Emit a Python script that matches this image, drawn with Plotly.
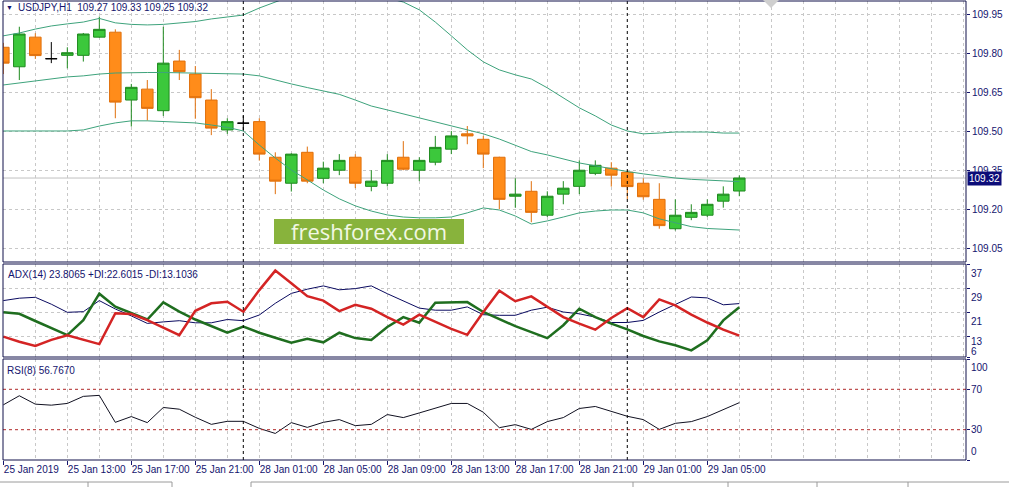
import plotly.graph_objects as go
import pandas as pd

W, H = 1009, 487
ML, MR, MT, MB = 3, 43, 1, 27

# H1 bars, weekend squeezed out like the terminal does
times = (list(pd.date_range("2019-01-25 09:00", "2019-01-25 23:00", freq="h"))
         + list(pd.date_range("2019-01-28 00:00", "2019-01-28 23:00", freq="h"))
         + list(pd.date_range("2019-01-29 00:00", "2019-01-29 07:00", freq="h")))

opens = [109.823, 109.748, 109.862, 109.779, 109.792, 109.792, 109.862, 109.881, 109.620, 109.662,
         109.579, 109.770, 109.720, 109.620, 109.505, 109.531, 109.537, 109.400, 109.300, 109.419,
         109.319, 109.350, 109.400, 109.288, 109.300, 109.400, 109.350, 109.381, 109.431, 109.490,
         109.469, 109.400, 109.250, 109.269, 109.177, 109.258, 109.288, 109.338, 109.358, 109.342,
         109.300, 109.238, 109.125, 109.169, 109.177, 109.231, 109.27]
highs = [109.840, 109.902, 109.877, 109.843, 109.823, 109.878, 109.941, 109.892, 109.682, 109.697,
         109.902, 109.813, 109.751, 109.662, 109.550, 109.560, 109.550, 109.419, 109.415, 109.441,
         109.383, 109.412, 109.412, 109.350, 109.412, 109.462, 109.400, 109.482, 109.501, 109.520,
         109.482, 109.402, 109.319, 109.308, 109.269, 109.308, 109.388, 109.388, 109.381, 109.350,
         109.319, 109.300, 109.238, 109.219, 109.238, 109.288, 109.33]
lows = [109.720, 109.697, 109.778, 109.762, 109.742, 109.768, 109.860, 109.550, 109.518, 109.541,
        109.559, 109.697, 109.548, 109.485, 109.490, 109.500, 109.387, 109.258, 109.268, 109.300,
        109.300, 109.331, 109.281, 109.269, 109.288, 109.350, 109.308, 109.369, 109.412, 109.450,
        109.358, 109.200, 109.206, 109.150, 109.170, 109.219, 109.258, 109.331, 109.287, 109.238,
        109.237, 109.125, 109.118, 109.158, 109.170, 109.206, 109.25]
closes = [109.762, 109.874, 109.791, 109.779, 109.802, 109.874, 109.892, 109.612, 109.669, 109.588,
          109.762, 109.729, 109.629, 109.512, 109.537, 109.531, 109.412, 109.308, 109.412, 109.308,
          109.358, 109.388, 109.300, 109.308, 109.388, 109.354, 109.388, 109.438, 109.482, 109.482,
          109.412, 109.238, 109.258, 109.188, 109.250, 109.281, 109.350, 109.369, 109.331, 109.287,
          109.248, 109.137, 109.177, 109.188, 109.219, 109.258, 109.32]

bb_upper = [109.867, 109.878, 109.893, 109.905, 109.913, 109.920, 109.934, 109.917, 109.911, 109.909,
            109.911, 109.917, 109.922, 109.932, 109.940, 109.947, 109.974, 109.997, 110.020, 110.036,
            110.043, 110.047, 110.043, 110.028, 110.013, 109.997, 109.967, 109.920, 109.867, 109.813,
            109.767, 109.736, 109.717, 109.701, 109.667, 109.628, 109.590, 109.559, 109.524, 109.501,
            109.490, 109.493, 109.497, 109.497, 109.497, 109.493, 109.493]
bb_mid = [109.678, 109.686, 109.693, 109.701, 109.709, 109.713, 109.720, 109.724, 109.726, 109.726,
          109.726, 109.725, 109.724, 109.724, 109.722, 109.720, 109.713, 109.697, 109.682, 109.668,
          109.655, 109.642, 109.620, 109.597, 109.582, 109.567, 109.551, 109.536, 109.520, 109.505,
          109.490, 109.470, 109.447, 109.422, 109.409, 109.393, 109.378, 109.367, 109.355, 109.345,
          109.336, 109.328, 109.320, 109.315, 109.311, 109.309, 109.306]
bb_lower = [109.501, 109.501, 109.501, 109.501, 109.501, 109.505, 109.520, 109.532, 109.540, 109.540,
            109.538, 109.536, 109.532, 109.524, 109.515, 109.501, 109.447, 109.397, 109.351, 109.313,
            109.274, 109.240, 109.213, 109.193, 109.178, 109.170, 109.167, 109.167, 109.170, 109.186,
            109.205, 109.197, 109.174, 109.143, 109.155, 109.170, 109.186, 109.193, 109.197, 109.197,
            109.186, 109.163, 109.147, 109.133, 109.126, 109.122, 109.120]

adx = [24.8, 25.6, 25.9, 23.6, 20.9, 21.1, 24.8, 22.0, 19.7, 17.2, 17.7, 18.1, 17.4, 17.4, 18.5, 18.1,
       20.0, 23.9, 27.2, 28.6, 29.7, 28.4, 28.8, 29.7, 27.1, 24.6, 22.3, 21.6, 21.6, 22.7, 20.1, 19.9,
       19.9, 21.6, 22.6, 21.0, 20.4, 19.3, 17.5, 17.5, 18.2, 21.0, 23.4, 26.0, 25.7, 23.4, 23.8065]
plus_di = [20.9, 20.4, 18.0, 15.6, 13.3, 18.3, 27.1, 22.8, 20.6, 18.5, 24.2, 21.1, 18.5, 16.3, 14.1, 16.1,
           14.1, 12.4, 10.8, 12.1, 10.9, 14.1, 12.3, 11.7, 16.0, 19.3, 17.4, 24.1, 24.1, 24.3, 21.0, 18.6,
           16.3, 14.3, 12.3, 16.6, 22.1, 19.3, 17.1, 15.2, 13.0, 11.2, 9.9, 8.2, 11.6, 18.2, 22.6015]
minus_di = [12.8, 11.1, 9.7, 11.7, 13.2, 11.7, 10.3, 20.6, 20.3, 18.3, 15.9, 13.3, 21.4, 23.9, 24.4, 21.1,
            28.3, 34.8, 30.6, 26.3, 24.8, 21.3, 23.4, 22.1, 19.3, 16.8, 20.1, 17.7, 15.4, 13.4, 21.0, 28.1,
            24.6, 26.2, 22.7, 19.3, 17.1, 15.1, 19.0, 22.3, 19.3, 25.2, 23.2, 20.1, 17.5, 15.1, 13.1036]

rsi = [54.6, 63.6, 55.3, 54.3, 56.0, 63.0, 64.0, 37.3, 43.0, 37.0, 52.0, 50.3, 42.3, 35.3, 38.3, 38.3,
       31.3, 26.3, 37.0, 32.3, 37.3, 40.0, 34.0, 35.3, 45.0, 42.0, 46.6, 51.6, 56.0, 56.0, 47.3, 32.0,
       35.0, 30.3, 38.0, 42.0, 51.0, 53.0, 48.3, 43.3, 40.0, 30.3, 36.3, 38.0, 43.0, 49.6, 56.767]
rsi_levels = [70, 30]

price_ticks = [109.05, 109.20, 109.35, 109.50, 109.65, 109.80, 109.95]
adx_ticks = [37, 29, 21, 13, 6]
rsi_ticks = [100, 70, 30, 0]

NAVY = "#14146e"
GRID = "#c8c8c8"
FONT = "Liberation Sans"


def px(x):
    return (x - ML) / (W - ML - MR)


def py(y):
    return (H - MB - y) / (H - MT - MB)


n = len(times)
idx = list(range(n))
tick_idx = list(range(0, n, 4))
tick_text = [times[i].strftime("%d %b %H:%M") for i in tick_idx]
tick_text[0] = times[0].strftime("%d %b %Y")
day_breaks = [i for i in range(1, n) if times[i].date() != times[i - 1].date()]

doji = [i for i in idx if opens[i] == closes[i]]
body = [i for i in idx if opens[i] != closes[i]]

fig = go.Figure()

for band in (bb_upper, bb_mid, bb_lower):
    fig.add_trace(go.Scatter(x=idx, y=band, mode="lines", line=dict(color="#3ea37c", width=1),
                             xaxis="x", yaxis="y", hoverinfo="skip"))

fig.add_trace(go.Candlestick(
    x=body, open=[opens[i] for i in body], high=[highs[i] for i in body],
    low=[lows[i] for i in body], close=[closes[i] for i in body],
    increasing=dict(line=dict(color="#1e8a1e", width=1), fillcolor="#3cc83c"),
    decreasing=dict(line=dict(color="#e0700c", width=1), fillcolor="#ff8c1a"),
    xaxis="x", yaxis="y"))
fig.add_trace(go.Candlestick(
    x=doji, open=[opens[i] for i in doji], high=[highs[i] for i in doji],
    low=[lows[i] for i in doji], close=[closes[i] for i in doji],
    increasing=dict(line=dict(color="black", width=1), fillcolor="black"),
    decreasing=dict(line=dict(color="black", width=1), fillcolor="black"),
    xaxis="x", yaxis="y"))

fig.add_trace(go.Scatter(x=idx, y=adx, mode="lines", line=dict(color="#0a0a60", width=1),
                         xaxis="x", yaxis="y2"))
fig.add_trace(go.Scatter(x=idx, y=plus_di, mode="lines", line=dict(color="#1f6e1f", width=2.5),
                         xaxis="x", yaxis="y2"))
fig.add_trace(go.Scatter(x=idx, y=minus_di, mode="lines", line=dict(color="#d42424", width=2.5),
                         xaxis="x", yaxis="y2"))
fig.add_trace(go.Scatter(x=idx, y=rsi, mode="lines", line=dict(color="#101020", width=1),
                         xaxis="x", yaxis="y3"))

dom_main = [py(262), 1]
dom_adx = [py(357), py(264)]
dom_rsi = [0, py(359)]

shapes = []
# current price line
shapes.append(dict(type="line", xref="paper", x0=0, x1=1, yref="y", y0=closes[-1], y1=closes[-1],
                   line=dict(color="#c0c0c0", width=1), layer="below"))
for lv in rsi_levels:
    shapes.append(dict(type="line", xref="paper", x0=0, x1=1, yref="y3", y0=lv, y1=lv,
                       line=dict(color="#b02828", width=1, dash="3px,3px")))
for b in day_breaks:
    shapes.append(dict(type="line", xref="x", x0=b, x1=b, yref="paper", y0=0, y1=py(0),
                       line=dict(color="black", width=1, dash="3px,3px")))
for d in (dom_main, dom_adx, dom_rsi):
    shapes.append(dict(type="rect", xref="paper", x0=0, x1=1, yref="paper", y0=d[0], y1=d[1],
                       line=dict(color="#10104a", width=1)))
# watermark box
shapes.append(dict(type="rect", xref="paper", x0=px(274), x1=px(464), yref="paper", y0=py(244), y1=py(219),
                   fillcolor="#88b33c", line=dict(width=0)))
# chart-shift marker and tab strip
shapes.append(dict(type="path", xref="paper", yref="paper",
                   path=f"M {px(763)},{py(0)} L {px(779)},{py(0)} L {px(771)},{py(8)} Z",
                   fillcolor="#cfcfcf", line=dict(width=0)))
for x0, x1 in ((0, 172), (251, 1009)):
    shapes.append(dict(type="line", xref="paper", yref="paper", x0=px(x0), x1=px(x1), y0=py(482), y1=py(482),
                       line=dict(color="#9a9a9a", width=1)))
for xv in (88, 172, 251, 633, 728, 817, 908):
    shapes.append(dict(type="line", xref="paper", yref="paper", x0=px(xv), x1=px(xv), y0=py(482), y1=py(487),
                       line=dict(color="#9a9a9a", width=1)))

ann = []
lab = dict(xref="paper", x=1, xanchor="left", xshift=3, showarrow=False,
           font=dict(family=FONT, size=10, color=NAVY))
for v in adx_ticks[:-2]:
    ann.append(dict(lab, text=str(v), y=v, yref="y2", yanchor="top", yshift=-2))
ann.append(dict(lab, text=str(adx_ticks[-2]), y=adx_ticks[-2], yref="y2", yanchor="top", yshift=2))
ann.append(dict(lab, text=str(adx_ticks[-1]), y=adx_ticks[-1], yref="y2", yanchor="bottom", yshift=-2))
ann.append(dict(lab, text=str(rsi_ticks[0]), y=rsi_ticks[0], yref="y3", yanchor="top", yshift=-1))
for v in rsi_ticks[1:-1]:
    ann.append(dict(lab, text=str(v), y=v, yref="y3", yanchor="middle"))
ann.append(dict(lab, text=str(rsi_ticks[-1]), y=rsi_ticks[-1], yref="y3", yanchor="bottom", yshift=1))
ann.append(dict(xref="paper", x=1, xanchor="left", xshift=1, y=closes[-1], yref="y", yanchor="middle",
                text=f"{closes[-1]:.2f}", showarrow=False, bgcolor="#0c0c78", borderpad=1,
                font=dict(family=FONT, size=10, color="white")))

txt = dict(xref="paper", yref="paper", xanchor="left", yanchor="middle", showarrow=False,
           font=dict(family=FONT, size=10, color=NAVY))
ann.append(dict(txt, x=px(4), y=py(8), text="\u25bc", font=dict(family=FONT, size=7, color=NAVY)))
ann.append(dict(txt, x=px(16), y=py(8),
                text=f"USDJPY,H1\u00a0\u00a0{opens[-1]:.2f} {highs[-1]:.2f} {lows[-1]:.2f} {closes[-1]:.2f}"))
ann.append(dict(txt, x=px(6), y=py(274),
                text=f"ADX(14) {adx[-1]:.4f} +DI:{plus_di[-1]:.4f} -DI:{minus_di[-1]:.4f}"))
ann.append(dict(txt, x=px(5), y=py(370), text=f"RSI(8) {rsi[-1]:.4f}"))
ann.append(dict(xref="paper", yref="paper", x=px(369), y=py(231), xanchor="center", yanchor="middle",
                showarrow=False, text="freshforex.com",
                font=dict(family="Open Sans", size=22, color="#f2f8e4")))

fig.update_layout(
    width=W, height=H,
    margin=dict(l=ML, r=MR, t=MT, b=MB, autoexpand=False),
    paper_bgcolor="white", plot_bgcolor="white",
    showlegend=False, hovermode=False,
    boxgap=0.2, boxgroupgap=0.1,
    shapes=shapes, annotations=ann,
    xaxis=dict(range=[-0.02, 60.17], anchor="y3", tickvals=tick_idx, ticktext=tick_text, tickangle=0,
               ticklabelposition="outside right", ticks="outside", ticklen=4, tickcolor=NAVY,
               tickfont=dict(family=FONT, size=10, color=NAVY), automargin=False,
               showgrid=True, gridcolor=GRID, griddash="3px,3px", zeroline=False, showline=False,
               minor=dict(tickvals=list(range(0, 62, 2)), showgrid=True, gridcolor=GRID,
                          griddash="3px,3px", ticks=""),
               rangeslider=dict(visible=False)),
    yaxis=dict(domain=dom_main, range=[108.997, 110.001], side="right", anchor="x",
               tickvals=price_ticks, ticktext=[f"{v:.2f}" for v in price_ticks],
               ticks="outside", ticklen=3, tickcolor=NAVY, automargin=False,
               tickfont=dict(family=FONT, size=10, color=NAVY),
               showgrid=True, gridcolor=GRID, griddash="3px,3px", zeroline=False),
    yaxis2=dict(domain=dom_adx, range=[6, 37], side="right", anchor="x", tickvals=adx_ticks,
                showticklabels=False, ticks="outside", ticklen=3, tickcolor=NAVY, automargin=False,
                showgrid=True, gridcolor=GRID, griddash="3px,3px", zeroline=False),
    yaxis3=dict(domain=dom_rsi, range=[0, 100], side="right", anchor="x", tickvals=rsi_ticks,
                showticklabels=False, ticks="outside", ticklen=3, tickcolor=NAVY, automargin=False,
                showgrid=False, zeroline=False),
)

# the page's default body margin would shift the chart by 8px
fig.write_html("out.html", config={"displayModeBar": False},
               post_script="document.body.style.margin='0px';")
